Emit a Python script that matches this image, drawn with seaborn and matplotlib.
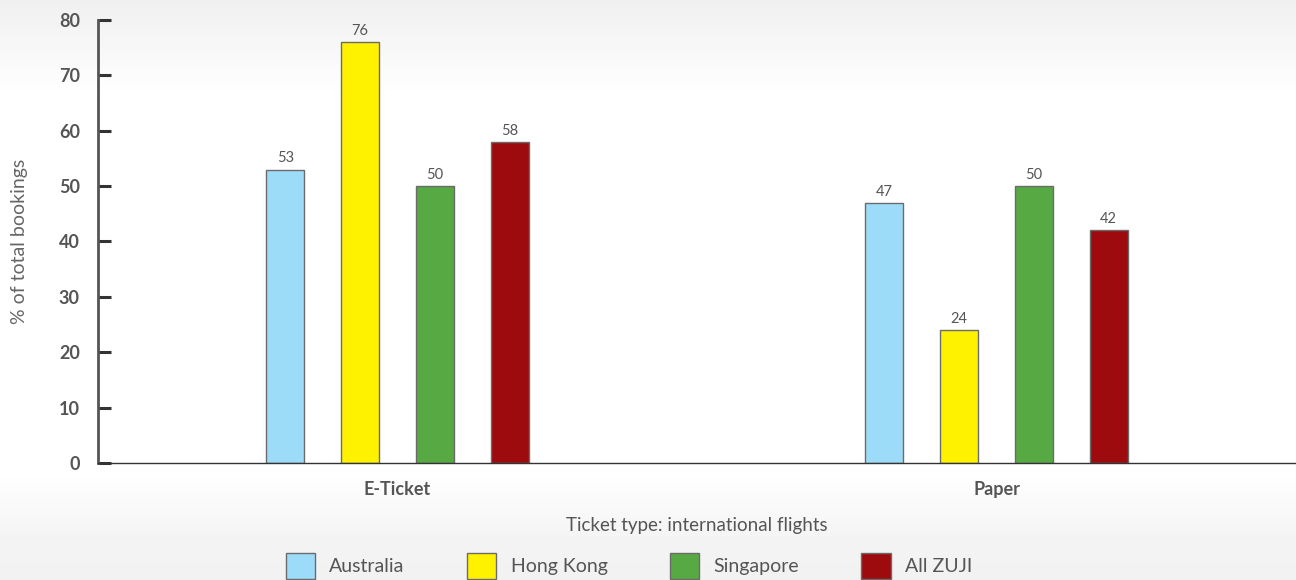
import numpy as np
import matplotlib
matplotlib.use("Agg")
import matplotlib.pyplot as plt
import pandas as pd
import seaborn as sns

ticket_types = ["E-Ticket", "Paper"]
regions = ["Australia", "Hong Kong", "Singapore", "All ZUJI"]
australia = [53, 47]
hong_kong = [76, 24]
singapore = [50, 50]
all_zuji = [58, 42]
colors = ["#9DDCF9", "#FFF200", "#57A943", "#9E0B0F"]

rows = []
for region, vals in zip(regions, [australia, hong_kong, singapore, all_zuji]):
    for t, v in zip(ticket_types, vals):
        rows.append({"type": t, "region": region, "value": v})
df = pd.DataFrame(rows)

sns.set_style("white")
plt.rcParams['font.family'] = ['Lato', 'DejaVu Sans']

fig = plt.figure(figsize=(12.96, 5.8), dpi=100)

# soft grey gradient behind everything
bg = fig.add_axes([0, 0, 1, 1], zorder=-10)
yy = np.linspace(0, 1, 580)
shade = np.interp(yy, [0, 0.17, 0.81, 0.93, 1.0], [0.94, 1.0, 1.0, 0.955, 0.945])
bg.imshow(np.repeat(shade[:, None], 2, axis=1), cmap="gray", vmin=0, vmax=1,
          aspect="auto", extent=[0, 1, 0, 1])
bg.set_axis_off()

ax = fig.add_axes([98 / 1296, 117 / 580, 1198 / 1296, 443 / 580])
ax.set_facecolor("none")

sns.barplot(data=df, x="type", y="value", hue="region", hue_order=regions,
            order=ticket_types, palette=colors, saturation=1, width=0.5, gap=0.49,
            edgecolor="#6b6b6b", linewidth=1.0, ax=ax, legend=True)

for cont in ax.containers:
    ax.bar_label(cont, padding=3, fontsize=10.5, color="#555555")

ax.set_ylim(0, 80)
ax.set_xlim(-0.5, 1.5)
ax.set_yticks(range(0, 81, 10))
ax.tick_params(axis="y", left=True, direction="in", length=9, width=2.2,
               color="#333333", labelsize=13, labelcolor="#555555", pad=13)
ax.tick_params(axis="x", bottom=False, length=0, labelsize=13,
               labelcolor="#555555", pad=13)
for lab in ax.get_yticklabels() + ax.get_xticklabels():
    lab.set_fontweight("bold")

for s in ["top", "right"]:
    ax.spines[s].set_visible(False)
ax.spines["left"].set_color("#555555")
ax.spines["left"].set_linewidth(2)
ax.spines["bottom"].set_color("#333333")
ax.spines["bottom"].set_linewidth(1)

ax.set_ylabel("% of total bookings", fontsize=14, color="#666666", labelpad=22)
ax.set_xlabel("Ticket type: international flights", fontsize=13.5,
              color="#555555", labelpad=14)

handles, labels = ax.get_legend_handles_labels()
ax.get_legend().remove()
leg = fig.legend(handles, labels, loc="center", ncol=4,
                 bbox_to_anchor=(629 / 1296, 14 / 580), frameon=False,
                 prop={"size": 14}, handlelength=1.5, handleheight=1.68,
                 columnspacing=3.2, handletextpad=0.75, borderpad=0)
for t in leg.get_texts():
    t.set_color("#555555")

fig.savefig("out.png", dpi=100)
